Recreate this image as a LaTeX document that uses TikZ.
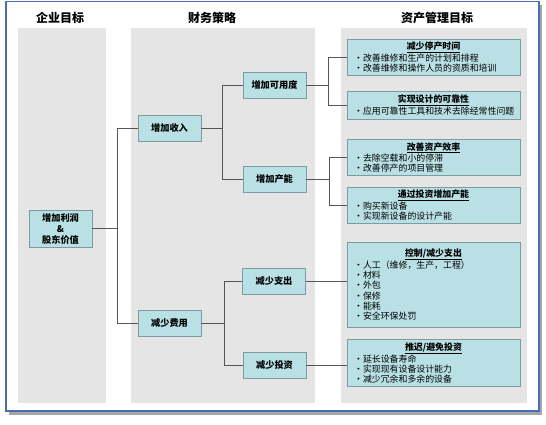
\documentclass[tikz,border=0pt]{standalone}
\usepackage{fontspec}
\setmainfont{Noto Sans CJK SC}
\usetikzlibrary{positioning}

\definecolor{boxfill}{RGB}{185,224,228}
\definecolor{boxline}{RGB}{125,155,160}
\definecolor{colgray}{RGB}{229,229,229}
\definecolor{frameblue}{RGB}{70,110,180}
\definecolor{wiregray}{RGB}{85,85,85}

\tikzset{
  goal/.style={draw=boxline, fill=boxfill, minimum width=63pt, minimum height=26pt,
    inner sep=1pt, align=center, font=\fontsize{9.2}{11}\selectfont\bfseries},
  detail/.style={draw=boxline, fill=boxfill, text width=161pt, inner xsep=6pt,
    inner ysep=3pt, font=\fontsize{8.9}{10.3}\selectfont},
  wire/.style={draw=wiregray, line width=0.9pt},
  header/.style={font=\fontsize{12}{14}\selectfont\bfseries}
}
\newcommand{\dhead}[1]{{\centering\bfseries\underline{#1}\par}}
\newcommand{\ditem}[1]{\noindent\hspace*{1pt}\hbox to 9pt{\textbullet\hss}#1\par}

\begin{document}
\begin{tikzpicture}[x=1pt, y=-1pt]
    \useasboundingbox (0,0) rectangle (546,424);

    % Frame with shadow
    \fill[black!35] (9,5) rectangle (542,415);
    \draw[frameblue, line width=1.2pt, fill=white] (6,1.5) rectangle (539,411);

    % Columns and headers
    \foreach \xa/\xb/\hx/\id/\name in {18/106/60/hgoal/企业目标, 131/315/212/hfin/财务策略, 341/527/437/hasset/资产管理目标} {
        \fill[colgray] (\xa,28) rectangle (\xb,403);
        \node[header] (\id) at (\hx,18) {\name};
    }

    % Goal and strategy nodes
    \node[goal, minimum height=37pt] (profit) at (60.5,228.5) {增加利润\\\&\\股东价值};
    \node[goal] (inc)    at (169.5,128) {增加收入};
    \node[goal] (cut)    at (169.5,323) {减少费用};
    \node[goal] (avail)  at (274.5,85)  {增加可用度};
    \node[goal] (capa)   at (274.5,179) {增加产能};
    \node[goal] (spend)  at (274,281)   {减少支出};
    \node[goal] (invest) at (274.5,365) {减少投资};

    % Asset management boxes
    \node[detail, minimum height=36pt] (d1) at (433.5,57) {\dhead{减少停产时间}
        \ditem{改善维修和生产的计划和排程}\ditem{改善维修和操作人员的资质和培训}};
    \node[detail, minimum height=28pt] (d2) at (433.5,105) {\dhead{实现设计的可靠性}
        \ditem{应用可靠性工具和技术去除经常性问题}};
    \node[detail, minimum height=31pt] (d3) at (433.5,157.5) {\dhead{改善资产效率}
        \ditem{去除空载和小的停滞}\ditem{改善停产的项目管理}};
    \node[detail, minimum height=30pt] (d4) at (433.5,205) {\dhead{通过投资增加产能}
        \ditem{购买新设备}\ditem{实现新设备的设计产能}};
    \node[detail, minimum height=85pt] (d5) at (433.5,284.5) {\dhead{控制/减少支出}
        \ditem{人工（维修，生产，工程）}\ditem{材料}\ditem{外包}\ditem{保修}\ditem{能耗}\ditem{安全环保处罚}};
    \node[detail, minimum height=44pt] (d6) at (433.5,363) {\dhead{推迟/避免投资}
        \ditem{延长设备寿命}\ditem{实现现有设备设计能力}\ditem{减少冗余和多余的设备}};

    % Connectors
    \coordinate (j1) at (117,0);
    \coordinate (j2) at (222,0);
    \coordinate (j3) at (224,0);
    \coordinate (j4) at (328,0);
    \coordinate (j5) at (329,0);
    \draw[wire] (profit.east) -- (profit.east -| j1);
    \draw[wire] (inc.west) -- (inc.west -| j1) |- (cut.west);
    \draw[wire] (inc.east) -- (inc.east -| j2);
    \draw[wire] (avail.west) -- (avail.west -| j2) |- (capa.west);
    \draw[wire] (cut.east) -- (cut.east -| j3);
    \draw[wire] (spend.west) -- (spend.west -| j3) |- (invest.west);
    \draw[wire] (avail.east) -- (avail.east -| j4);
    \draw[wire] (d1.west) -- (d1.west -| j4) |- (d2.west);
    \draw[wire] (capa.east) -- (capa.east -| j5);
    \draw[wire] (d3.west) -- (d3.west -| j5) |- (d4.west);
    \draw[wire] (spend.east) -- (spend.east -| d5.west);
    \draw[wire] (invest.east) -- (invest.east -| d6.west);
\end{tikzpicture}
\end{document}
